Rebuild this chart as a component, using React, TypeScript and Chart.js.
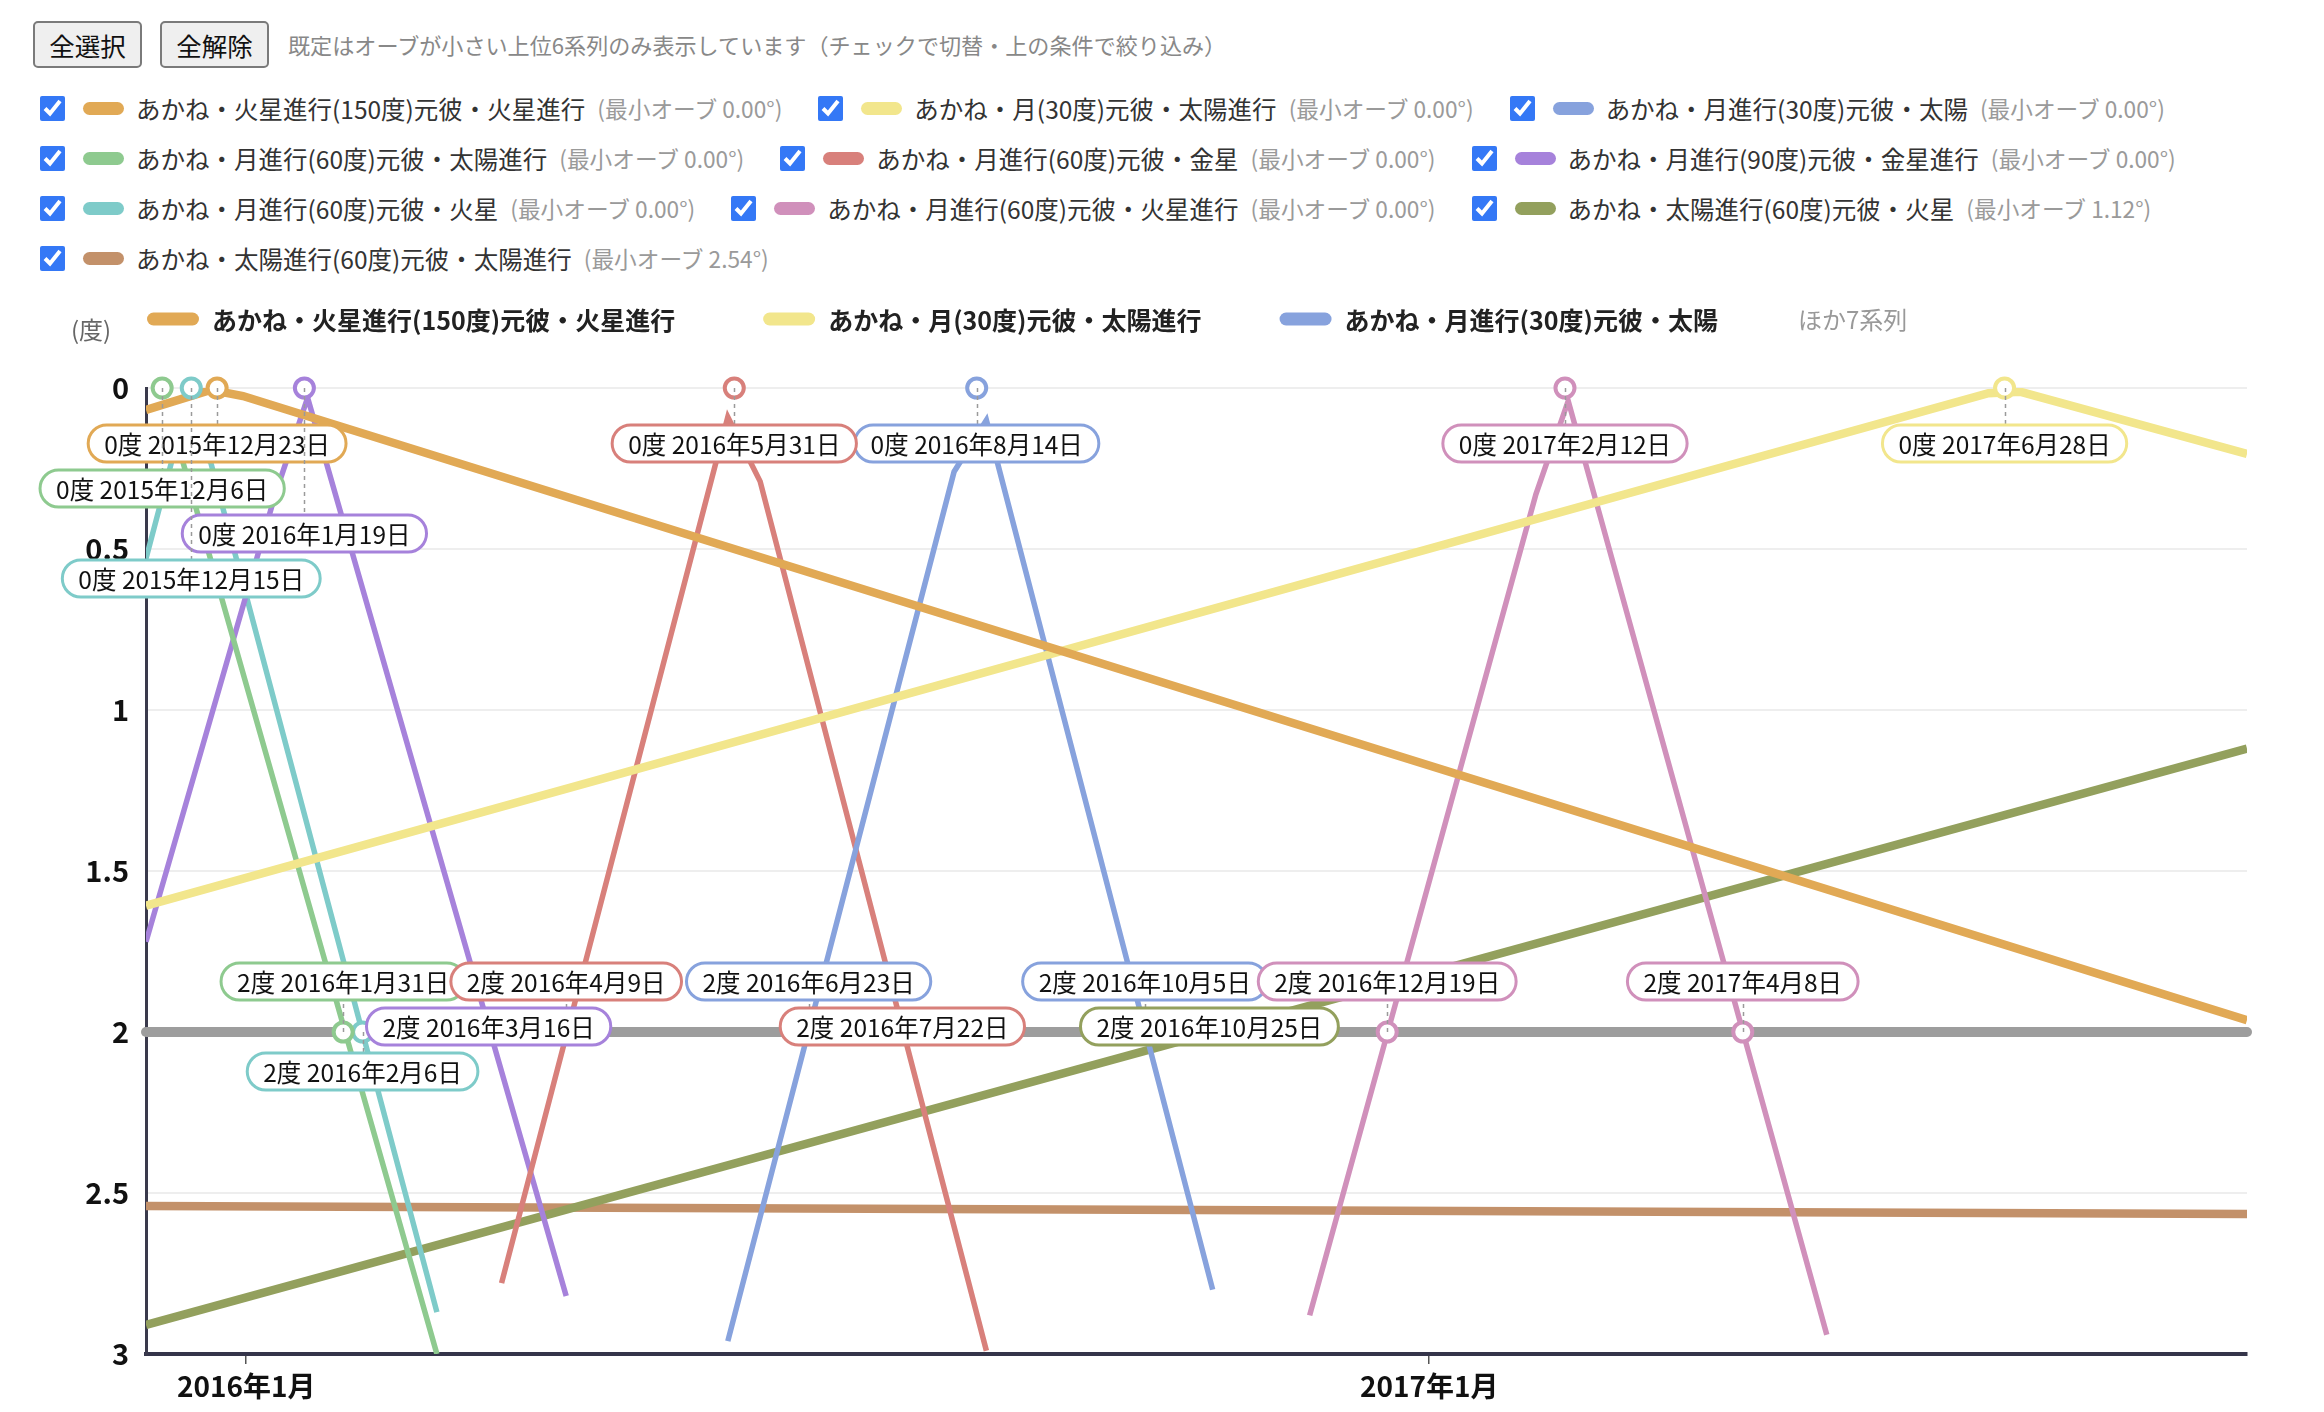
import React, { useEffect, useRef } from 'react';
import { Chart, registerables } from 'chart.js';

Chart.register(...registerables);

const FONT = '"Noto Sans CJK JP", "Noto Sans", sans-serif';

// ---- series meta ----
const SERIES_NAMES = [
  'あかね・火星進行(150度)元彼・火星進行',
  'あかね・月(30度)元彼・太陽進行',
  'あかね・月進行(30度)元彼・太陽',
  'あかね・月進行(60度)元彼・太陽進行',
  'あかね・月進行(60度)元彼・金星',
  'あかね・月進行(90度)元彼・金星進行',
  'あかね・月進行(60度)元彼・火星',
  'あかね・月進行(60度)元彼・火星進行',
  'あかね・太陽進行(60度)元彼・火星',
  'あかね・太陽進行(60度)元彼・太陽進行',
];
const SERIES_COLORS = [
  '#E1A955', '#F2E68C', '#87A2DD', '#8ECA8F', '#D8807B',
  '#A682DB', '#7ECBC9', '#D090BB', '#93A05D', '#C3916A',
];
const SERIES_WIDTHS = [8.5, 8.5, 5.5, 5.5, 5.5, 5.5, 5.5, 5.5, 8.5, 8.5];
const MIN_ORBS = ['0.00', '0.00', '0.00', '0.00', '0.00', '0.00', '0.00', '0.00', '1.12', '2.54'];

// ---- series values (date, orb in degrees) ----
const ORANGE_DATES = ['2015-12-01', '2015-12-21', '2015-12-31', '2017-09-11'];
const ORANGE_ORBS = [0.068, 0.006, 0.025, 1.963];
const YELLOW_DATES = ['2015-12-01', '2017-06-23', '2017-07-03', '2017-09-11'];
const YELLOW_ORBS = [1.608, 0.016, 0.012, 0.205];
const BLUE_DATES = ['2016-05-29', '2016-08-07', '2016-08-17', '2016-10-26'];
const BLUE_ORBS = [2.96, 0.26, 0.1, 2.8];
const GREEN_DATES = ['2015-12-01', '2015-12-11', '2016-02-29'];
const GREEN_ORBS = [0.18, 0.18, 3.0];
const RED_DATES = ['2016-03-20', '2016-05-29', '2016-06-08', '2016-08-17'];
const RED_ORBS = [2.78, 0.09, 0.29, 2.99];
const PURPLE_DATES = ['2015-12-01', '2016-01-10', '2016-01-20', '2016-04-09'];
const PURPLE_ORBS = [1.72, 0.33, 0.03, 2.82];
const CYAN_DATES = ['2015-12-01', '2015-12-11', '2015-12-21', '2016-02-29'];
const CYAN_ORBS = [0.53, 0.15, 0.23, 2.87];
const PINK_DATES = ['2016-11-25', '2017-02-03', '2017-02-13', '2017-05-04'];
const PINK_ORBS = [2.88, 0.33, 0.04, 2.94];
const OLIVE_DATES = ['2015-12-01', '2017-09-11'];
const OLIVE_ORBS = [2.91, 1.12];
const BROWN_DATES = ['2015-12-01', '2017-09-11'];
const BROWN_ORBS = [2.54, 2.565];

const SERIES_DATES = [ORANGE_DATES, YELLOW_DATES, BLUE_DATES, GREEN_DATES, RED_DATES, PURPLE_DATES, CYAN_DATES, PINK_DATES, OLIVE_DATES, BROWN_DATES];
const SERIES_ORBS = [ORANGE_ORBS, YELLOW_ORBS, BLUE_ORBS, GREEN_ORBS, RED_ORBS, PURPLE_ORBS, CYAN_ORBS, PINK_ORBS, OLIVE_ORBS, BROWN_ORBS];

// ---- exact (0°) and threshold (2°) dates ----
const EXACT_DATES: (string | null)[] = [
  '2015-12-23', '2017-06-28', '2016-08-14', '2015-12-06', '2016-05-31',
  '2016-01-19', '2015-12-15', '2017-02-12', null, null,
];
const TWO_DEG_DATES: string[][] = [
  [], [], ['2016-06-23', '2016-10-05'], ['2016-01-31'], ['2016-04-09', '2016-07-22'],
  ['2016-03-16'], ['2016-02-06'], ['2016-12-19', '2017-04-08'], ['2016-10-25'], [],
];

// ---- axes ----
const X_MIN_DATE = '2015-12-01';
const X_MAX_DATE = '2017-09-11';
const X_TICK_DATES = ['2016-01-01', '2017-01-01'];
const Y_MIN = 0;
const Y_MAX = 3;
const Y_STEP = 0.5;
const EXACT_ORB = 0;
const THRESHOLD_ORB = 2;

const LEGEND_COUNT = 3;
const OTHERS_LABEL = 'ほか7系列';
const Y_TITLE = '(度)';
const HELP_TEXT = '既定はオーブが小さい上位6系列のみ表示しています（チェックで切替・上の条件で絞り込み）';

function ts(s: string): number {
  const [y, m, d] = s.split('-').map(Number);
  return Date.UTC(y, m - 1, d);
}
function fmtDate(s: string): string {
  const [y, m, d] = s.split('-').map(Number);
  return `${y}年${m}月${d}日`;
}
function rr(ctx: CanvasRenderingContext2D, x: number, y: number, w: number, h: number, r: number) {
  ctx.beginPath();
  ctx.moveTo(x + r, y);
  ctx.arcTo(x + w, y, x + w, y + h, r);
  ctx.arcTo(x + w, y + h, x, y + h, r);
  ctx.arcTo(x, y + h, x, y, r);
  ctx.arcTo(x, y, x + w, y, r);
  ctx.closePath();
}

const LABEL_FONT = `24.5px ${FONT}`;
const LEGEND_GAPS = [88, 78, 80];

const annotPlugin = {
  id: 'orbAnnotations',
  afterDatasetsDraw(chart: any) {
    const ctx: CanvasRenderingContext2D = chart.ctx;
    const xs = chart.scales.x;
    const ys = chart.scales.y;
    const H = 37;
    const STEP = 45;
    const TOL = 24;
    ctx.save();
    const placed: Record<string, { l: number; r: number; lv: number }[]> = { a: [], b: [] };
    const fits = (arr: any[], l: number, r: number, lv: number) =>
      !arr.some((b) => b.lv === lv && Math.min(r, b.r) - Math.max(l, b.l) > TOL);
    for (let i = 0; i < SERIES_NAMES.length; i++) {
      const marks: { date: string; deg: number }[] = [];
      const ex = EXACT_DATES[i];
      if (ex) marks.push({ date: ex, deg: EXACT_ORB });
      for (const d of TWO_DEG_DATES[i]) marks.push({ date: d, deg: THRESHOLD_ORB });
      for (const m of marks) {
        const px = xs.getPixelForValue(ts(m.date));
        const py = ys.getPixelForValue(m.deg);
        const text = `${m.deg}度 ${fmtDate(m.date)}`;
        ctx.font = LABEL_FONT;
        const w = ctx.measureText(text).width + 32;
        let l = px - w / 2;
        l = Math.max(4, Math.min(l, chart.width - w - 4));
        const arr = m.deg === EXACT_ORB ? placed.a : placed.b;
        let lv = 0;
        while (!fits(arr, l, l + w, lv)) lv++;
        arr.push({ l, r: l + w, lv });
        const top = m.deg === EXACT_ORB ? py + 37 + lv * STEP : py - 69 + lv * STEP;
        // leader
        ctx.save();
        ctx.setLineDash([4, 4]);
        ctx.strokeStyle = '#9a9a9a';
        ctx.lineWidth = 1.5;
        let y2: number | null = null;
        if (top > py) y2 = top;
        else if (top + H < py) y2 = top + H;
        if (y2 !== null) {
          ctx.beginPath();
          ctx.moveTo(Math.round(px) + 0.5, py);
          ctx.lineTo(Math.round(px) + 0.5, y2);
          ctx.stroke();
        }
        ctx.restore();
        // label box
        rr(ctx, l, top, w, H, H / 2);
        ctx.fillStyle = '#ffffff';
        ctx.fill();
        ctx.lineWidth = 3;
        ctx.strokeStyle = SERIES_COLORS[i];
        ctx.stroke();
        ctx.fillStyle = '#111111';
        ctx.textAlign = 'center';
        ctx.textBaseline = 'middle';
        ctx.font = LABEL_FONT;
        ctx.fillText(text, l + w / 2, top + H / 2 + 1);
      }
    }
    ctx.restore();
  },
  afterDraw(chart: any) {
    const ctx: CanvasRenderingContext2D = chart.ctx;
    ctx.save();
    const y = 29;
    let x = chart.chartArea.left + 1;
    ctx.textBaseline = 'middle';
    ctx.textAlign = 'left';
    for (let i = 0; i < LEGEND_COUNT; i++) {
      ctx.fillStyle = SERIES_COLORS[i];
      rr(ctx, x, y - 6.5, 52, 13, 6.5);
      ctx.fill();
      ctx.font = `bold 25px ${FONT}`;
      ctx.fillStyle = '#222222';
      ctx.fillText(SERIES_NAMES[i], x + 65, y + 1);
      x += 65 + ctx.measureText(SERIES_NAMES[i]).width + LEGEND_GAPS[i];
    }
    ctx.font = `24px ${FONT}`;
    ctx.fillStyle = '#999999';
    ctx.fillText(OTHERS_LABEL, x, y + 1);
    ctx.fillStyle = '#666666';
    ctx.fillText(Y_TITLE, 63, 40);
    ctx.restore();
  },
};

const CANVAS_W = 2308;
const CANVAS_H = 1110;

function ChartView() {
  const ref = useRef<HTMLCanvasElement | null>(null);
  useEffect(() => {
    if (!ref.current) return;
    Chart.defaults.font.family = FONT;
    const datasets: any[] = [];
    SERIES_NAMES.forEach((name, i) => {
      datasets.push({
        label: name,
        data: SERIES_DATES[i].map((d, k) => ({ x: ts(d), y: SERIES_ORBS[i][k] })),
        borderColor: SERIES_COLORS[i],
        backgroundColor: SERIES_COLORS[i],
        borderWidth: SERIES_WIDTHS[i],
        pointRadius: 0,
        tension: 0,
        fill: false,
        order: i + 1,
      });
    });
    datasets.push({
      label: 'threshold',
      data: [
        { x: ts(X_MIN_DATE), y: THRESHOLD_ORB },
        { x: ts(X_MAX_DATE), y: THRESHOLD_ORB },
      ],
      borderColor: '#9d9d9d',
      borderWidth: 10,
      borderCapStyle: 'round',
      pointRadius: 0,
      order: 100,
      clip: false,
    });
    SERIES_NAMES.forEach((name, i) => {
      const pts: any[] = [];
      const ex = EXACT_DATES[i];
      if (ex) pts.push({ x: ts(ex), y: EXACT_ORB });
      TWO_DEG_DATES[i].forEach((d) => pts.push({ x: ts(d), y: THRESHOLD_ORB }));
      if (!pts.length) return;
      datasets.push({
        label: name + ' markers',
        data: pts,
        showLine: false,
        pointRadius: 9.5,
        pointBorderWidth: 4,
        pointBackgroundColor: '#ffffff',
        pointBorderColor: SERIES_COLORS[i],
        borderColor: SERIES_COLORS[i],
        order: -1,
        clip: false,
      });
    });

    const chart = new Chart(ref.current, {
      type: 'line',
      data: { datasets },
      plugins: [annotPlugin],
      options: {
        responsive: false,
        animation: false,
        events: [],
        layout: { padding: { top: 98, right: 69, left: 0, bottom: 0 } },
        plugins: { legend: { display: false }, tooltip: { enabled: false } },
        scales: {
          x: {
            type: 'linear',
            min: ts(X_MIN_DATE),
            max: ts(X_MAX_DATE),
            afterBuildTicks: (scale: any) => {
              scale.ticks = X_TICK_DATES.map((d) => ({ value: ts(d) }));
            },
            afterFit: (scale: any) => {
              scale.height = 46;
            },
            grid: { display: true, drawOnChartArea: false, drawTicks: true, tickLength: 10, color: '#555555', lineWidth: 1.5 },
            border: { display: true, color: '#35354a', width: 4 },
            ticks: {
              autoSkip: false,
              maxRotation: 0,
              padding: 6,
              color: '#111111',
              font: { size: 28, weight: 'bold' },
              callback: (v: any) => {
                const d = new Date(Number(v));
                return `${d.getUTCFullYear()}年${d.getUTCMonth() + 1}月`;
              },
            },
          },
          y: {
            type: 'linear',
            reverse: true,
            min: Y_MIN,
            max: Y_MAX,
            afterFit: (scale: any) => {
              scale.width = 138;
            },
            grid: { color: '#eeeeee', lineWidth: 2, drawTicks: false },
            border: { display: true, color: '#3a3a4c', width: 3 },
            ticks: {
              stepSize: Y_STEP,
              padding: 17,
              color: '#111111',
              font: { size: 29, weight: 'bold' },
              callback: (v: any) => String(v),
            },
          },
        },
      } as any,
    });
    return () => chart.destroy();
  }, []);
  return <canvas ref={ref} width={CANVAS_W} height={CANVAS_H} style={{ display: 'block', width: CANVAS_W, height: CANVAS_H }} />;
}

const btnStyle: React.CSSProperties = {
  width: 109,
  height: 47,
  padding: 0,
  fontSize: 25.5,
  fontFamily: FONT,
  color: '#111',
  background: '#efefef',
  border: '2px solid #7a7a7a',
  borderRadius: 5,
  boxSizing: 'border-box',
};

export default function App() {
  return (
    <div style={{ fontFamily: FONT }}>
      <div style={{ height: 282, boxSizing: 'border-box', padding: '13px 0 0 25px' }}>
        <div style={{ display: 'flex', alignItems: 'center', height: 47 }}>
          <button style={btnStyle}>全選択</button>
          <button style={{ ...btnStyle, marginLeft: 18 }}>全解除</button>
          <span style={{ marginLeft: 19, fontSize: 22.1, color: '#888888', whiteSpace: 'nowrap', marginTop: -2 }}>{HELP_TEXT}</span>
        </div>
        <div style={{ display: 'flex', flexWrap: 'wrap', columnGap: 29, marginTop: 15 }}>
          {SERIES_NAMES.map((name, i) => (
            <label key={name} style={{ display: 'flex', alignItems: 'center', height: 50, whiteSpace: 'nowrap' }}>
              <input
                type="checkbox"
                defaultChecked
                style={{ width: 25, height: 25, margin: '0 0 0 7px', accentColor: '#3478f6' }}
              />
              <span style={{ display: 'inline-block', width: 41, height: 13, borderRadius: 7, background: SERIES_COLORS[i], marginLeft: 18 }} />
              <span style={{ marginLeft: 12, fontSize: 24.5, color: '#333333' }}>{name}</span>
              <span style={{ marginLeft: 12, fontSize: 22.7, color: '#9a9a9a' }}>(最小オーブ {MIN_ORBS[i]}°)</span>
            </label>
          ))}
        </div>
      </div>
      <ChartView />
    </div>
  );
}
